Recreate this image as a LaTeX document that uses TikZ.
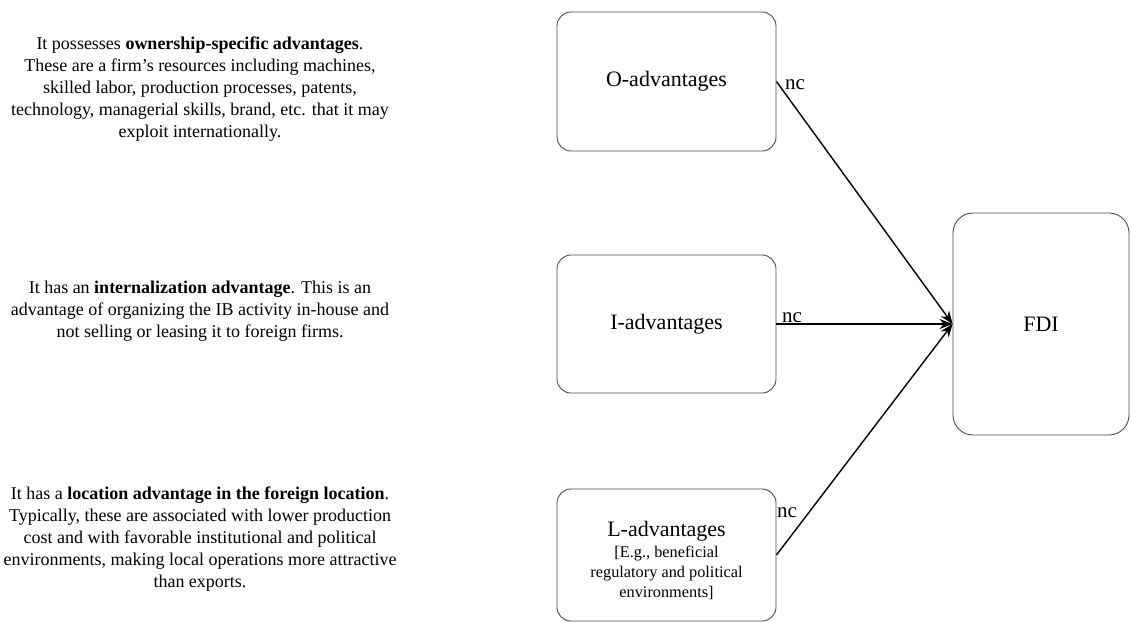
\documentclass[tikz,border=0pt]{standalone}
\usepackage{fontspec}
\setmainfont{Liberation Serif}
\usetikzlibrary{arrows.meta}
\begin{document}
\begin{tikzpicture}[x=1pt,y=-1pt,
  box/.style={draw=black!70,line width=0.9pt,rounded corners=14pt,inner sep=0pt,align=center,font=\fontsize{22}{26}\selectfont},
  desc/.style={align=center,font=\fontsize{18}{22}\selectfont,inner sep=0pt},
  lbl/.style={font=\fontsize{21}{24}\selectfont,inner sep=0pt},
  conn/.style={line width=1.4pt,-{Stealth[length=13pt,width=10pt]}}]
\useasboundingbox (0,0) rectangle (1131,622);
\node[desc] (t1) at (200,89) {It possesses \textbf{ownership-specific advantages}.\\These are a firm’s resources including machines,\\skilled labor, production processes, patents,\\technology, managerial skills, brand, etc. that it may\\exploit internationally.};
\node[desc] (t2) at (200,311) {It has an \textbf{internalization advantage}. This is an\\advantage of organizing the IB activity in-house and\\not selling or leasing it to foreign firms.};
\node[desc] (t3) at (200,539) {It has a \textbf{location advantage in the foreign location}.\\Typically, these are associated with lower production\\cost and with favorable institutional and political\\environments, making local operations more attractive\\than exports.};
\node[box,minimum width=219pt,minimum height=139pt] (O) at (666.5,81.5) {O-advantages};
\node[box,minimum width=219pt,minimum height=138pt] (I) at (666.5,324) {I-advantages};
\node[box,minimum width=219pt,minimum height=132pt] (L) at (666.5,555) {};
\node[inner sep=0pt,font=\fontsize{22}{26}\selectfont,anchor=base] (Lt) at (666.5,536) {L-advantages};
\node[inner sep=0pt,align=center,font=\fontsize{16.3}{20}\selectfont] (Ls) at (666.5,573) {[E.g., beneficial\\regulatory and political\\environments]};
\node[box,rounded corners=20pt,minimum width=176pt,minimum height=222pt] (F) at (1041,324) {FDI};
\draw[conn] (O.east) -- (F.west);
\draw[conn] (I.east) -- (F.west);
\draw[conn] (L.east) -- (F.west);
\node[lbl,anchor=base west] (n1) at (785,89) {nc};
\node[lbl,anchor=base west] (n2) at (782,322) {nc};
\node[lbl,anchor=base west] (n3) at (777,517) {nc};
\end{tikzpicture}
\end{document}
